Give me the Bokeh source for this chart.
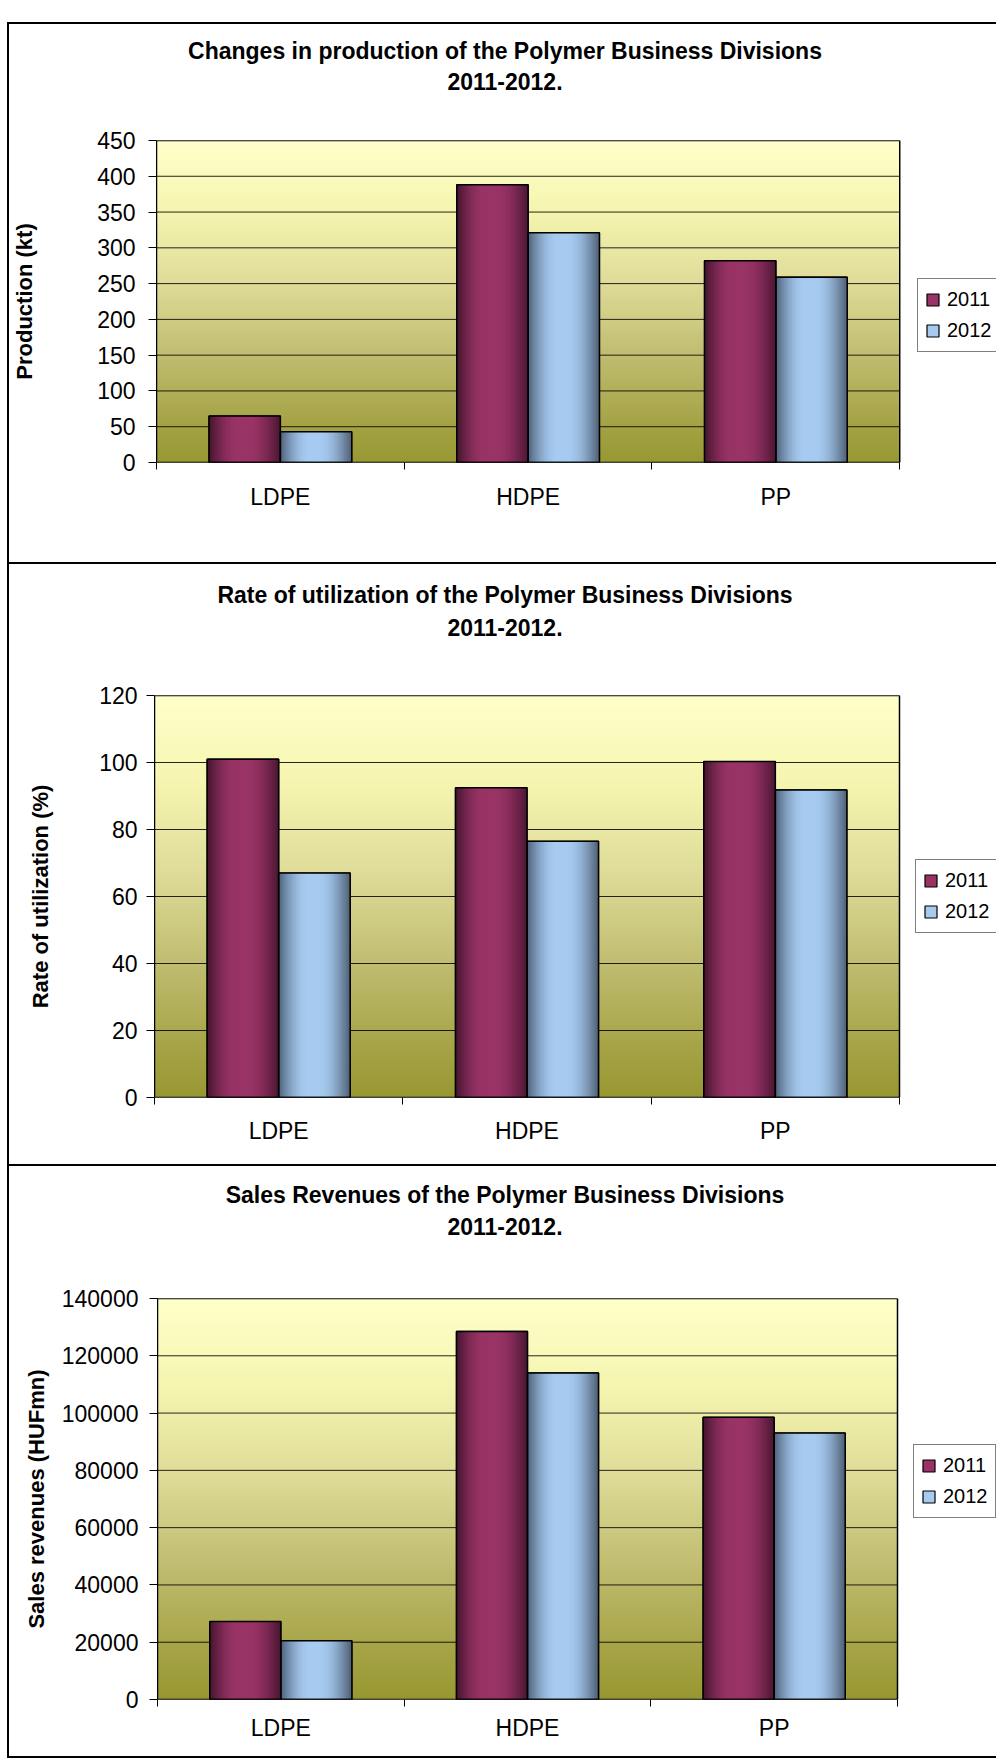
import numpy as np
from bokeh.plotting import figure
from bokeh.models import (FixedTicker, Range1d, Legend, LegendItem, Spacer, Div,
                          NumeralTickFormatter)
from bokeh.layouts import column, row
from bokeh.embed import file_html
from bokeh.resources import INLINE

# ---------------- data ----------------
categories = ["LDPE", "HDPE", "PP"]
series_names = ["2011", "2012"]
production_2011 = [65, 388, 282]
production_2012 = [43, 321, 259]
utilization_2011 = [101, 92.5, 100.3]
utilization_2012 = [67, 76.5, 91.8]
revenue_2011 = [27200, 128500, 98500]
revenue_2012 = [20500, 114000, 93000]
production_ticks = [0, 50, 100, 150, 200, 250, 300, 350, 400, 450]
utilization_ticks = [0, 20, 40, 60, 80, 100, 120]
revenue_ticks = [0, 20000, 40000, 60000, 80000, 100000, 120000, 140000]

FONT = "Liberation Sans"
BAR_W = 0.288
FIG_W = 987
C2011 = "#993366"
C2012 = "#A6CAF0"


def rgba_image(rgb):
    h, w, _ = rgb.shape
    img = np.empty((h, w), dtype=np.uint32)
    v = img.view(dtype=np.uint8).reshape((h, w, 4))
    v[:, :, :3] = np.clip(np.round(rgb), 0, 255).astype(np.uint8)
    v[:, :, 3] = 255
    return img


def bar_shade(edge_l, mid, edge_r, n=160):
    t = np.linspace(0, 1, n)
    edge_l, mid, edge_r = (np.array(c, dtype=float) for c in (edge_l, mid, edge_r))
    kl = np.sin(np.clip(t / 0.40, 0, 1) * np.pi / 2)[:, None]
    kr = np.sin(np.clip((1 - t) / 0.45, 0, 1) * np.pi / 2)[:, None]
    left = edge_l * (1 - kl) + mid * kl
    right = edge_r * (1 - kr) + mid * kr
    rgb = np.where((t < 0.5)[:, None], left, right)
    return rgba_image(rgb[None, :, :])


def bg_shade(n=300):
    t = np.linspace(0, 1, n)
    stops_t = [0.0, 0.11, 0.33, 0.56, 0.78, 1.0]
    stops_c = np.array([[152, 152, 50], [164, 162, 68], [192, 188, 112],
                        [222, 220, 152], [245, 245, 176], [255, 255, 202]], dtype=float)
    rgb = np.stack([np.interp(t, stops_t, stops_c[:, k]) for k in range(3)], axis=1)
    return rgba_image(rgb[:, None, :])


IMG_2011 = bar_shade((70, 22, 48), (153, 51, 102), (74, 22, 50))
IMG_2012 = bar_shade((80, 100, 125), (166, 202, 240), (78, 94, 115))
IMG_BG = bg_shade()


def make_panel(height, left, plot_px, top, bottom, ymax, ticks, v2011, v2012, ylabel,
               tick_standoff, axis_label_standoff, x_standoff, legend_vy):
    n = len(categories)
    frame_w = FIG_W - left
    x_end = n * frame_w / plot_px          # leaves room on the right for the legend
    p = figure(width=FIG_W, height=height, x_range=Range1d(0, x_end), y_range=Range1d(0, ymax),
               output_backend="svg", toolbar_location=None,
               min_border_left=left, min_border_right=0,
               min_border_top=top, min_border_bottom=bottom)
    p.background_fill_color = "white"
    p.border_fill_color = "white"
    p.outline_line_color = None

    # plot-area gradient
    p.image_rgba(image=[IMG_BG], x=0, y=0, dw=n, dh=ymax, level="image")
    # horizontal grid lines across the plot area
    p.segment(x0=[0] * len(ticks), x1=[n] * len(ticks), y0=ticks, y1=ticks,
              line_color="black", line_width=1, line_alpha=0.85)

    centers = np.arange(n) + 0.5
    # solid bars (also used as legend swatches), then the cylinder shading on top
    r11 = p.vbar(x=list(centers - BAR_W / 2), width=BAR_W, top=list(v2011), bottom=0,
                 fill_color=C2011, line_color="black", line_width=1.2)
    r12 = p.vbar(x=list(centers + BAR_W / 2), width=BAR_W, top=list(v2012), bottom=0,
                 fill_color=C2012, line_color="black", line_width=1.2)
    p.image_rgba(image=[IMG_2011] * n, x=list(centers - BAR_W), y=[0] * n,
                 dw=[BAR_W] * n, dh=list(v2011))
    p.image_rgba(image=[IMG_2012] * n, x=list(centers), y=[0] * n,
                 dw=[BAR_W] * n, dh=list(v2012))
    p.vbar(x=list(centers - BAR_W / 2), width=BAR_W, top=list(v2011), bottom=0,
           fill_alpha=0, line_color="black", line_width=1.5)
    p.vbar(x=list(centers + BAR_W / 2), width=BAR_W, top=list(v2012), bottom=0,
           fill_alpha=0, line_color="black", line_width=1.5)

    # plot-area border
    p.quad(left=[0], right=[n], bottom=[0], top=[ymax], fill_alpha=0,
           line_color="black", line_width=1.5)

    legend = Legend(items=[LegendItem(label=series_names[0], renderers=[r11]),
                           LegendItem(label=series_names[1], renderers=[r12])],
                    location=(plot_px + 16, legend_vy))
    legend.label_text_font = FONT
    legend.label_text_font_size = "20px"
    legend.label_text_color = "black"
    legend.glyph_width = 15
    legend.glyph_height = 15
    legend.label_standoff = 7
    legend.padding = 7
    legend.spacing = 4
    legend.label_height = 27
    legend.margin = 0
    legend.border_line_color = "black"
    legend.border_line_width = 1
    legend.background_fill_color = "white"
    legend.background_fill_alpha = 1
    p.add_layout(legend)

    # y axis
    yax = p.yaxis[0]
    yax.ticker = FixedTicker(ticks=ticks)
    yax.formatter = NumeralTickFormatter(format="0")
    yax.major_label_text_font = FONT
    yax.major_label_text_font_size = "23px"
    yax.major_label_text_color = "black"
    yax.major_tick_out = 8
    yax.major_tick_in = 0
    yax.minor_tick_out = 0
    yax.minor_tick_in = 0
    yax.major_tick_line_color = "black"
    yax.axis_line_color = "black"
    yax.major_label_standoff = tick_standoff
    yax.axis_label = ylabel
    yax.axis_label_text_font = FONT
    yax.axis_label_text_font_size = "22px"
    yax.axis_label_text_font_style = "bold"
    yax.axis_label_text_color = "black"
    yax.axis_label_standoff = axis_label_standoff

    # x axis: labels at category centres, ticks at category boundaries
    xax = p.xaxis[0]
    xax.ticker = FixedTicker(ticks=[i + 0.5 for i in range(n)],
                             minor_ticks=[i for i in range(n + 1)])
    xax.major_label_overrides = {i + 0.5: c for i, c in enumerate(categories)}
    xax.major_label_text_font = FONT
    xax.major_label_text_font_size = "23px"
    xax.major_label_text_color = "black"
    xax.major_tick_out = 0
    xax.major_tick_in = 0
    xax.major_tick_line_color = None
    xax.minor_tick_out = 7
    xax.minor_tick_in = 0
    xax.minor_tick_line_color = "black"
    xax.axis_line_color = None
    xax.major_label_standoff = x_standoff

    p.xgrid.visible = False
    p.ygrid.visible = False
    return p


def title_div(line1, height, pad_top, line_h):
    html = ('<div style="box-sizing:border-box; width:%dpx; padding-top:%dpx; padding-left:5px; '
            'text-align:center; font-family:\'Liberation Sans\', Arial, sans-serif; '
            'font-weight:bold; font-size:23px; line-height:%dpx; color:#000; '
            'white-space:nowrap;">%s<br>2011-2012.</div>') % (FIG_W, pad_top, line_h, line1)
    return Div(text=html, width=FIG_W, height=height, margin=0)


p1 = make_panel(452, 145, 745, 30, 100, 450, production_ticks,
                production_2011, production_2012, "Production (kt)",
                13, 57, 14, 110)
p2 = make_panel(514, 145, 745, 45, 67, 120, utilization_ticks,
                utilization_2011, utilization_2012, "Rate of utilization (%)",
                9, 43, 13, 164)
p3 = make_panel(506, 148, 740, 48, 57, 140000, revenue_ticks,
                revenue_2011, revenue_2012, "Sales revenues (HUFmn)",
                11, 10, 8, 181)

d1 = title_div("Changes in production of the Polymer Business Divisions", 86, 12, 31)
d2 = title_div("Rate of utilization of the Polymer Business Divisions", 86, 15, 33)
d3 = title_div("Sales Revenues of the Polymer Business Divisions", 84, 13, 32)

BLACK = {"background-color": "black"}


def hline():
    return Spacer(width=FIG_W + 2, height=2, styles=BLACK)


def block(div, fig, h):
    return row(Spacer(width=2, height=h, styles=BLACK), column(div, fig))


layout = row(
    Spacer(width=7, height=1758),
    column(Spacer(width=FIG_W + 2, height=22),
           hline(), block(d1, p1, 538),
           hline(), block(d2, p2, 600),
           hline(), block(d3, p3, 590),
           hline()))

open("out.html", "w").write(file_html(layout, INLINE))
